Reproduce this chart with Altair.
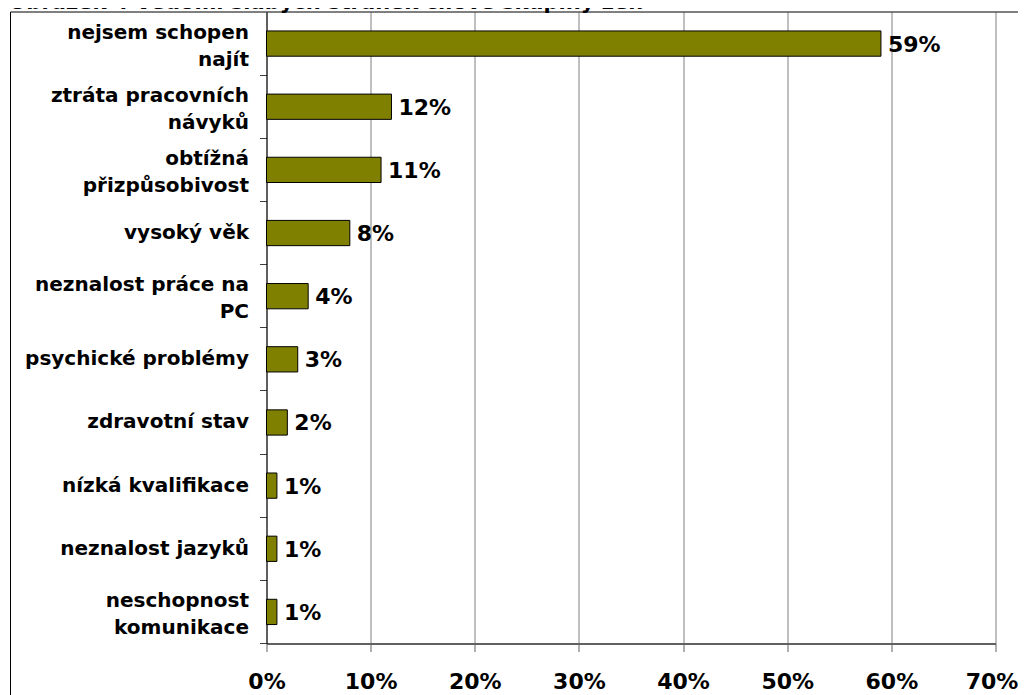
import altair as alt
import pandas as pd

categories = [
    "nejsem schopen\nnajít",
    "ztráta pracovních\nnávyků",
    "obtížná\npřizpůsobivost",
    "vysoký věk",
    "neznalost práce na\nPC",
    "psychické problémy",
    "zdravotní stav",
    "nízká kvalifikace",
    "neznalost jazyků",
    "neschopnost\nkomunikace",
]
values = [59, 12, 11, 8, 4, 3, 2, 1, 1, 1]
x_ticks = [0, 0.1, 0.2, 0.3, 0.4, 0.5, 0.6, 0.7]
title_text = "Obrázek 4 Vědomí slabých stránek cílové skupiny žen"

df = pd.DataFrame({"cat": categories, "share": [v / 100 for v in values]})

FONT = "DejaVu Sans"
W, H = 729, 631.5

y_enc = alt.Y(
    "cat:N",
    sort=categories,
    scale=alt.Scale(paddingInner=0, paddingOuter=0),
    axis=alt.Axis(
        title=None,
        bandPosition=1,
        tickSize=7,
        tickColor="#404040",
        domainColor="#000000",
        domainWidth=1,
        labelFont=FONT,
        labelFontSize=20,
        labelFontWeight="bold",
        labelColor="#000000",
        labelAlign="right",
        labelBaseline="middle",
        labelPadding=11,
        labelLimit=400,
        labelLineHeight=27,
        labelOffset={
            "condition": {"test": "indexof(datum.value, '\\n') >= 0", "value": -11},
            "value": 0,
        },
        labelExpr="split(datum.label, '\\n')",
        grid=False,
    ),
)

x_enc = alt.X(
    "share:Q",
    scale=alt.Scale(domain=[0, 0.7], nice=False),
    axis=alt.Axis(
        title=None,
        format=".0%",
        values=x_ticks,
        grid=True,
        gridColor="#808080",
        gridWidth=1,
        domainColor="#606060",
        domainWidth=2,
        tickColor="#606060",
        tickSize=8,
        labelFlush=False,
        labelOffset={
            "condition": {"test": "datum.value >= 0.69", "value": -4},
            "value": 0,
        },
        labelFont=FONT,
        labelFontSize=22,
        labelFontWeight="bold",
        labelColor="#000000",
        labelPadding=20,
    ),
)

base = alt.Chart(df)

bars = base.mark_bar(
    height={"band": 0.4},
    color="#808000",
    stroke="#000000",
    strokeWidth=1,
).encode(x=x_enc, y=y_enc)

labels = base.mark_text(
    align="left",
    baseline="middle",
    dx=7,
    dy=1,
    font=FONT,
    fontSize=22,
    fontWeight="bold",
    color="#000000",
).encode(
    x=alt.X("share:Q"),
    y=alt.Y("cat:N", sort=categories),
    text=alt.Text("share:Q", format=".0%"),
)

frame = alt.Chart(alt.Data(values=[{}])).mark_rect(
    filled=False, stroke="#000000", strokeWidth=1
).encode(
    x=alt.value(-256),
    x2=alt.value(2000),
    y=alt.value(0),
    y2=alt.value(2000),
)

title = alt.Chart(alt.Data(values=[{"t": title_text}])).mark_text(
    align="left",
    baseline="alphabetic",
    font=FONT,
    fontSize=21,
    fontWeight="bold",
    color="#000000",
).encode(
    x=alt.value(-258),
    y=alt.value(-3),
    text="t:N",
)

chart = (
    alt.layer(frame, bars, labels, title)
    .properties(
        width=W,
        height=H,
        padding={"left": 258.5, "top": 4, "right": 22.5, "bottom": 51.5},
        autosize=alt.AutoSizeParams(type="none"),
        background="#ffffff",
    )
    .configure_view(stroke=None)
)

chart.save("out.html", embed_options={"renderer": "svg", "actions": False})
